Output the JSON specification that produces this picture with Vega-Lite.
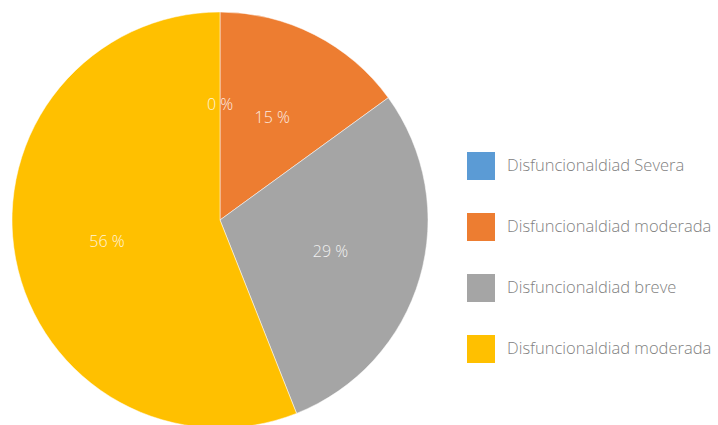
{
  "$schema": "https://vega.github.io/schema/vega-lite/v6.json",
  "width": 440,
  "height": 440,
  "autosize": {"type": "pad"},
  "padding": 0,
  "background": "white",
  "config": {"view": {"stroke": null}},
  "data": {
    "values": [
      {"idx": 1, "cat": "Disfuncionaldiad Severa", "pct": 0},
      {"idx": 2, "cat": "Disfuncionaldiad moderada", "pct": 15},
      {"idx": 3, "cat": "Disfuncionaldiad breve", "pct": 29},
      {"idx": 4, "cat": "Disfuncionaldiad moderada ", "pct": 56}
    ]
  },
  "encoding": {
    "theta": {"field": "pct", "type": "quantitative", "stack": true},
    "order": {"field": "idx", "type": "quantitative"}
  },
  "layer": [
    {
      "mark": {"type": "arc", "outerRadius": 208, "stroke": "white", "strokeWidth": 0.5},
      "encoding": {
        "color": {
          "field": "cat",
          "type": "nominal",
          "scale": {
            "domain": ["Disfuncionaldiad Severa", "Disfuncionaldiad moderada", "Disfuncionaldiad breve", "Disfuncionaldiad moderada "],
            "range": ["#5b9bd5", "#ed7d31", "#a5a5a5", "#ffc000"]
          },
          "legend": {
            "title": null,
            "orient": "none",
            "legendX": 467,
            "legendY": 152,
            "padding": 0,
            "symbolType": "square",
            "symbolSize": 784,
            "symbolStrokeWidth": 0,
            "symbolOpacity": 1,
            "rowPadding": 33,
            "labelOffset": 12,
            "labelFont": "Open Sans",
            "labelFontWeight": 300,
            "labelFontSize": 16.5,
            "labelColor": "#7f7f7f",
            "labelLimit": 300
          }
        }
      }
    },
    {
      "mark": {"type": "text", "radius": 115, "font": "Open Sans", "fontWeight": 300, "fontSize": 16, "color": "white", "opacity": 0.85, "text": {"expr": "datum.pct + ' %'"}},
      "encoding": {}
    }
  ]
}
